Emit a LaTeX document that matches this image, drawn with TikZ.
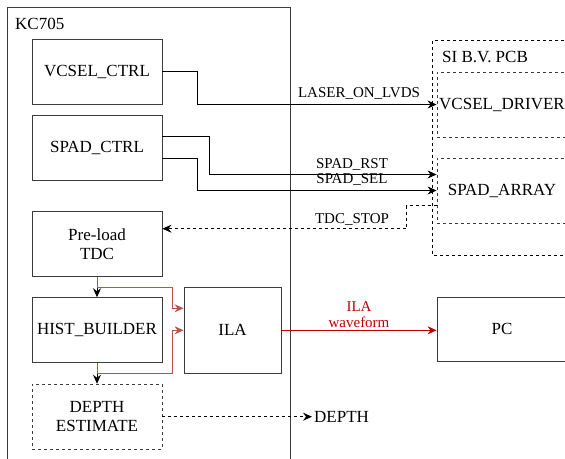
\documentclass[tikz,border=0pt]{standalone}
\usepackage{fontspec}
\setmainfont{Liberation Serif}
\usepackage{xcolor}
\usetikzlibrary{arrows.meta}
\definecolor{boxline}{HTML}{3C3C3C}
\definecolor{ilared}{HTML}{B85450}
\definecolor{wavered}{HTML}{C00000}
\tikzset{
  block/.style    = {draw=boxline,line width=0.9pt,minimum width=130pt,minimum height=65pt,inner sep=2pt,align=center,font=\fontsize{17}{19}\selectfont},
  dashblock/.style= {block,dash pattern=on 3pt off 3pt},
  sigarr/.style   = {-{Stealth[length=9pt,width=8pt,inset=3pt]},line width=0.8pt},
  dasharr/.style  = {sigarr,dash pattern=on 3pt off 3pt},
  redarr/.style   = {sigarr,ilared},
  wavearr/.style  = {sigarr,wavered},
  siglabel/.style = {font=\fontsize{15}{16.5}\selectfont,inner sep=0pt,align=center}
}

\begin{document}
\begin{tikzpicture}[x=1pt,y=-1pt]
  \useasboundingbox (0,0) rectangle (565,458);
  % FPGA board
  \draw[boxline,line width=0.9pt] (7.5,470) -- (7.5,7) -- (290.5,7) -- (290.5,470);
  \node[anchor=west,inner sep=0pt,font=\fontsize{17}{19}\selectfont] (kclabel) at (15,24) {KC705};
  \node[block] (vcselctrl) at (97,71.5)  {VCSEL\_CTRL};
  \node[block] (spadctrl)  at (97,147.5) {SPAD\_CTRL};
  \node[block] (tdc)       at (97,244.2) {Pre-load\\TDC};
  \node[block] (hist)      at (97,330.2) {HIST\_BUILDER};
  \node[dashblock] (depthest) at (97,416.7) {DEPTH\\ESTIMATE};
  \node[block,minimum width=97pt,minimum height=86pt] (ila) at (232.5,330.3) {ILA};
  % sensor board
  \draw[dash pattern=on 3pt off 3pt,line width=0.8pt] (600,40) -- (432.7,40) -- (432.7,255) -- (600,255);
  \node[anchor=west,inner sep=0pt,font=\fontsize{17}{19}\selectfont] (pcblabel) at (442,57) {SI B.V. PCB};
  \node[dashblock] (vdrv)    at (502,104.5) {VCSEL\_DRIVER};
  \node[dashblock] (spadarr) at (502,190.5) {SPAD\_ARRAY};
  \node[block,minimum height=64pt] (pc) at (502,329) {PC};
  \node[anchor=west,inner sep=2pt,font=\fontsize{17}{19}\selectfont] (depthout) at (312,416.7) {DEPTH};

  % signals to the sensor board
  \draw[sigarr] (vcselctrl.east) -- ++(35,0) |- (vdrv.west);
  \draw[sigarr] ([yshift=11.5pt]spadctrl.east) -- ++(47,0) |- ([yshift=16pt]spadarr.west);
  \draw[sigarr] ([yshift=-10.5pt]spadctrl.east) -- ++(35,0) |- (spadarr.west);
  \draw[dasharr] ([yshift=-15pt]spadarr.west) -- ++(-30,0) |- ([yshift=15.5pt]tdc.east);
  \node[siglabel] (laserlbl) at (359,93)  {LASER\_ON\_LVDS};
  \node[siglabel] (rstlbl)   at (352,164.5) {SPAD\_RST};
  \node[siglabel] (sellbl)   at (352,179.5) {SPAD\_SEL};
  \node[siglabel] (stoplbl)  at (352,219) {TDC\_STOP};

  % processing chain
  \draw[sigarr] (tdc) -- (hist);
  \draw[sigarr] (hist) -- (depthest);
  \draw[redarr] (tdc.south) -- ++(0,10.6) -- ++(75,0) |- ([yshift=22pt]ila.west);
  \draw[redarr] (hist.south) -- ++(0,10.6) -- ++(75,0) |- (ila.west);
  \draw[wavearr] (ila.east) -- node[siglabel,above=2pt,wavered] (wavelbl) {ILA\\waveform} (ila.east -| pc.west);
  \draw[dasharr] (depthest.east) -- (depthout.west);
\end{tikzpicture}
\end{document}
